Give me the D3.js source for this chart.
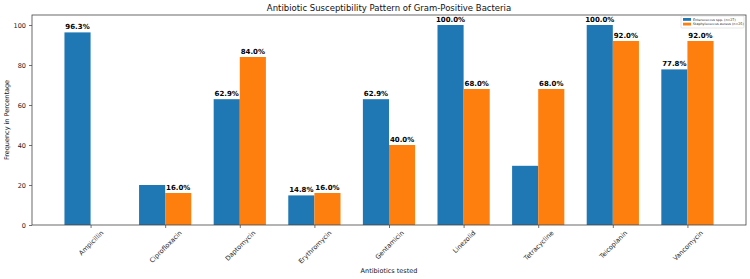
<!DOCTYPE html>
<html><head><meta charset="utf-8">
<script src="https://cdn.jsdelivr.net/npm/d3@7"></script>
<style>body{margin:0;background:#fff}text{font-family:"DejaVu Sans",sans-serif}</style>
</head><body><svg id="c" width="750" height="279"></svg>
<script>
const categories = ["Ampicillin","Ciprofloxacin","Daptomycin","Erythromycin","Gentamicin","Linezolid","Tetracycline","Teicoplanin","Vancomycin"];
const enteroValues = [96.3, 20.0, 62.9, 14.8, 62.9, 100.0, 29.6, 100.0, 77.8];
const staphValues = [0, 16.0, 84.0, 16.0, 40.0, 68.0, 68.0, 92.0, 92.0];
const enteroLabels = ["96.3%", null, "62.9%", "14.8%", "62.9%", "100.0%", null, "100.0%", "77.8%"];
const staphLabels = [null, "16.0%", "84.0%", "16.0%", "40.0%", "68.0%", "68.0%", "92.0%", "92.0%"];
const seriesNames = ["Enterococcus spp. (n=27)", "Staphylococcus aureus (n=25)"];
const colors = ["#1f77b4", "#ff7f0e"];
const yTicks = [0, 20, 40, 60, 80, 100];

const svg = d3.select("#c");
const L = 32, R = 746, T = 15, B = 225;
const bw = 0.35;
const x = d3.scaleLinear().domain([-0.785, 8.785]).range([L, R]);
const y = d3.scaleLinear().domain([0, 105]).range([B, T]);

const series = [
  {vals: enteroValues, labels: enteroLabels, off: -bw, color: colors[0]},
  {vals: staphValues, labels: staphLabels, off: 0, color: colors[1]}
];
series.forEach(s => {
  svg.append("g").selectAll("rect").data(s.vals).join("rect")
    .attr("x", (d, i) => x(i + s.off))
    .attr("width", x(bw) - x(0))
    .attr("y", d => y(d))
    .attr("height", d => y(0) - y(d))
    .attr("fill", s.color);
  const g = svg.append("g");
  s.labels.forEach((lab, i) => {
    if (lab === null) return;
    g.append("text")
      .attr("x", x(i + s.off + bw / 2))
      .attr("y", y(s.vals[i]) - 3)
      .attr("text-anchor", "middle")
      .attr("font-size", 7)
      .attr("font-weight", "bold")
      .style("fill", "#000")
      .text(lab);
  });
});

// axes
const yAxis = d3.axisLeft(y).tickValues(yTicks).tickSize(3).tickPadding(3);
const gy = svg.append("g").attr("transform", `translate(${L},0)`).call(yAxis);
gy.select(".domain").remove();
gy.selectAll("text").attr("font-size", 6.5).style("fill", "#222").style("font-family", "DejaVu Sans");
gy.selectAll("line").style("stroke", "#333").attr("stroke-width", 0.7);

const xAxis = d3.axisBottom(x).tickValues(d3.range(categories.length)).tickSize(3).tickFormat(i => categories[i]);
const gx = svg.append("g").attr("transform", `translate(0,${B})`).call(xAxis);
gx.select(".domain").remove();
gx.selectAll("line").style("stroke", "#333").attr("stroke-width", 0.7);
gx.selectAll("text").attr("font-size", 6.5).style("fill", "#222").style("font-family", "DejaVu Sans")
  .attr("text-anchor", "middle").attr("dy", null)
  .each(function() {
    const t = d3.select(this);
    const len = this.getComputedTextLength();
    const h = 6.5 * 0.75;
    const half = (len + h) * 0.7071 / 2;
    t.attr("y", 0).attr("transform", `translate(0,${5 + half}) rotate(-45)`).attr("dy", "0.35em");
  });

svg.append("rect").attr("x", L).attr("y", T).attr("width", R - L).attr("height", B - T)
  .attr("fill", "none").attr("stroke", "#444").attr("stroke-width", 0.8);

svg.append("text").attr("x", (L + R) / 2).attr("y", 11).attr("text-anchor", "middle")
  .attr("font-size", 8.5).style("fill", "#111").text("Antibiotic Susceptibility Pattern of Gram-Positive Bacteria");
svg.append("text").attr("x", (L + R) / 2).attr("y", 273).attr("text-anchor", "middle")
  .attr("font-size", 6.5).style("fill", "#111").text("Antibiotics tested");
svg.append("text").attr("transform", `translate(9,${(T + B) / 2}) rotate(-90)`).attr("text-anchor", "middle")
  .attr("font-size", 6.5).style("fill", "#111").text("Frequency in Percentage");

// legend
const lg = svg.append("g").attr("transform", "translate(681,16)");
lg.append("rect").attr("width", 63).attr("height", 12).attr("fill", "#fff").attr("stroke", "#ccc").attr("stroke-width", 0.5).attr("rx", 1);
seriesNames.forEach((n, i) => {
  lg.append("rect").attr("x", 2).attr("y", 2 + i * 4.7).attr("width", 8).attr("height", 2.8).attr("fill", colors[i]);
  lg.append("text").attr("x", 12).attr("y", 4.6 + i * 4.7).attr("font-size", 3.3).style("fill", "#222").text(n);
});
</script></body></html>
